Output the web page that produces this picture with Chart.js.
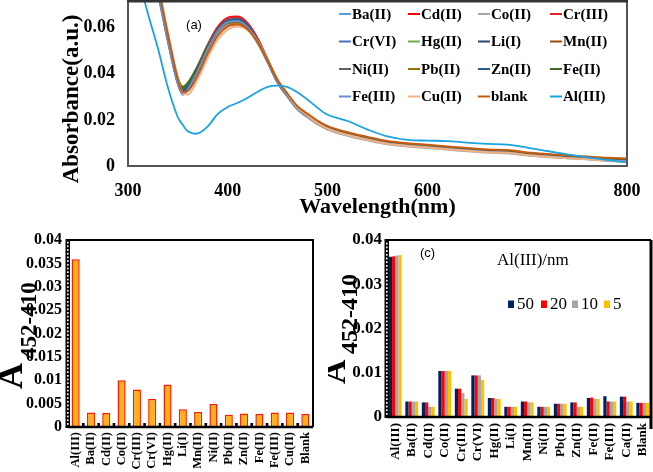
<!DOCTYPE html>
<html><head><meta charset="utf-8">
<script src="https://cdn.jsdelivr.net/npm/chart.js@4.4.1/dist/chart.umd.min.js"></script>
<style>
html,body{margin:0;padding:0;background:#fff;width:653px;height:472px;overflow:hidden}
.box{position:absolute}
</style></head><body>
<div class="box" style="left:0;top:0;width:653px;height:230px"><canvas id="ca"></canvas></div>
<div class="box" style="left:0;top:230px;width:328px;height:242px"><canvas id="cb"></canvas></div>
<div class="box" style="left:328px;top:230px;width:325px;height:242px"><canvas id="cc"></canvas></div>
<script>
// ---------- (a) UV-vis spectra ----------
const wavelengths = [300,320,330,340,350,355,360,370,380,390,400,410,420,430,440,450,460,470,480,490,500,520,540,560,580,600,620,640,660,680,700,720,740,760,780,800];
const spectraNames = ['Ba(II)','Cd(II)','Co(II)','Cr(III)','Cr(VI)','Hg(II)','Li(I)','Mn(II)','Ni(II)','Pb(II)','Zn(II)','Fe(II)','Fe(III)','Cu(II)','blank','Al(III)'];
const specBa   = [0.138,0.094,0.075,0.054,0.0355,0.031,0.033,0.041,0.0505,0.0582,0.0620,0.0625,0.0598,0.0538,0.0452,0.0362,0.0302,0.0247,0.0215,0.0185,0.0162,0.0135,0.0115,0.0097,0.0088,0.0081,0.0074,0.0067,0.0061,0.0058,0.0048,0.0041,0.0035,0.0030,0.0024,0.0019];
const specCd   = [0.142,0.097,0.077,0.056,0.037,0.0328,0.035,0.0435,0.0527,0.0603,0.0643,0.0648,0.0618,0.0552,0.0460,0.0365,0.0303,0.0248,0.0215,0.0185,0.0162,0.0135,0.0115,0.0098,0.0089,0.0082,0.0075,0.0068,0.0062,0.0059,0.0049,0.0042,0.0036,0.0031,0.0025,0.0020];
const specCo   = [0.137,0.093,0.075,0.054,0.036,0.032,0.034,0.0418,0.0505,0.0578,0.0612,0.0617,0.0590,0.0530,0.0447,0.0358,0.0298,0.0243,0.0210,0.0180,0.0158,0.0131,0.0111,0.0094,0.0085,0.0078,0.0071,0.0064,0.0058,0.0055,0.0046,0.0039,0.0034,0.0029,0.0023,0.0018];
const specCr3  = [0.141,0.096,0.077,0.0555,0.0372,0.0332,0.0352,0.0433,0.0524,0.0600,0.0640,0.0645,0.0615,0.0550,0.0460,0.0367,0.0306,0.0251,0.0218,0.0188,0.0165,0.0138,0.0117,0.0100,0.0090,0.0083,0.0076,0.0069,0.0063,0.0060,0.0050,0.0043,0.0037,0.0032,0.0026,0.0021];
const specCr6  = [0.139,0.095,0.076,0.055,0.036,0.0318,0.034,0.042,0.0512,0.0588,0.0628,0.0635,0.0606,0.0543,0.0455,0.0364,0.0304,0.0249,0.0217,0.0187,0.0164,0.0137,0.0117,0.0099,0.0090,0.0083,0.0076,0.0069,0.0063,0.0060,0.0050,0.0043,0.0037,0.0032,0.0026,0.0021];
const specHg   = [0.140,0.096,0.077,0.056,0.038,0.0345,0.0362,0.0435,0.0522,0.0592,0.0627,0.0630,0.0602,0.0540,0.0454,0.0364,0.0305,0.0250,0.0218,0.0188,0.0166,0.0139,0.0119,0.0101,0.0092,0.0085,0.0078,0.0071,0.0065,0.0062,0.0052,0.0045,0.0039,0.0034,0.0028,0.0023];
const specLi   = [0.140,0.095,0.076,0.055,0.037,0.033,0.035,0.0428,0.0516,0.0590,0.0627,0.0632,0.0604,0.0542,0.0455,0.0364,0.0304,0.0249,0.0217,0.0187,0.0164,0.0137,0.0117,0.0099,0.0090,0.0083,0.0076,0.0069,0.0063,0.0060,0.0050,0.0043,0.0037,0.0032,0.0026,0.0021];
const specMn   = [0.141,0.096,0.077,0.056,0.037,0.033,0.035,0.0425,0.0512,0.0585,0.0620,0.0626,0.0600,0.0540,0.0456,0.0368,0.0309,0.0255,0.0223,0.0193,0.0170,0.0143,0.0123,0.0105,0.0096,0.0089,0.0082,0.0075,0.0069,0.0066,0.0056,0.0049,0.0043,0.0038,0.0032,0.0027];
const specNi   = [0.140,0.096,0.077,0.056,0.0372,0.0335,0.0355,0.0430,0.0518,0.0591,0.0628,0.0633,0.0605,0.0543,0.0456,0.0366,0.0306,0.0251,0.0219,0.0189,0.0167,0.0140,0.0120,0.0102,0.0093,0.0086,0.0079,0.0072,0.0066,0.0063,0.0053,0.0046,0.0040,0.0035,0.0029,0.0024];
const specPb   = [0.139,0.095,0.076,0.056,0.0378,0.034,0.0358,0.0430,0.0514,0.0584,0.0618,0.0622,0.0596,0.0536,0.0452,0.0363,0.0304,0.0249,0.0217,0.0187,0.0165,0.0138,0.0118,0.0100,0.0091,0.0084,0.0077,0.0070,0.0064,0.0061,0.0051,0.0044,0.0038,0.0033,0.0027,0.0022];
const specZn   = [0.140,0.095,0.076,0.055,0.0365,0.0325,0.0347,0.0427,0.0518,0.0593,0.0632,0.0637,0.0608,0.0545,0.0457,0.0365,0.0305,0.0250,0.0218,0.0188,0.0165,0.0138,0.0118,0.0100,0.0091,0.0084,0.0077,0.0070,0.0064,0.0061,0.0051,0.0044,0.0038,0.0033,0.0027,0.0022];
const specFe2  = [0.140,0.096,0.077,0.056,0.0378,0.034,0.0358,0.0432,0.0518,0.0588,0.0624,0.0628,0.0601,0.0540,0.0455,0.0366,0.0307,0.0252,0.0220,0.0190,0.0168,0.0141,0.0121,0.0103,0.0094,0.0087,0.0080,0.0073,0.0067,0.0064,0.0054,0.0047,0.0041,0.0036,0.0030,0.0025];
const specFe3  = [0.138,0.094,0.075,0.054,0.0355,0.031,0.0332,0.0413,0.0507,0.0585,0.0623,0.0628,0.0600,0.0540,0.0454,0.0363,0.0303,0.0248,0.0216,0.0186,0.0163,0.0136,0.0116,0.0098,0.0089,0.0082,0.0075,0.0068,0.0062,0.0059,0.0049,0.0042,0.0036,0.0031,0.0025,0.0020];
const specCu   = [0.142,0.098,0.079,0.058,0.038,0.0315,0.031,0.0378,0.0470,0.0548,0.0592,0.0605,0.0590,0.0540,0.0462,0.0375,0.0310,0.0252,0.0218,0.0186,0.0162,0.0134,0.0114,0.0096,0.0087,0.0080,0.0073,0.0066,0.0060,0.0057,0.0047,0.0040,0.0034,0.0029,0.0023,0.0018];
const specBlank= [0.141,0.097,0.078,0.057,0.0375,0.032,0.0325,0.0395,0.0488,0.0565,0.0605,0.0613,0.0592,0.0537,0.0458,0.0372,0.0312,0.0258,0.0226,0.0196,0.0173,0.0146,0.0126,0.0108,0.0099,0.0092,0.0085,0.0078,0.0072,0.0069,0.0059,0.0052,0.0046,0.0041,0.0036,0.0033];
const specAl   = [0.098,0.066,0.051,0.034,0.0210,0.0178,0.0150,0.0141,0.0172,0.0226,0.0256,0.0274,0.0296,0.0322,0.0343,0.0348,0.0342,0.0318,0.0287,0.0252,0.0222,0.0195,0.0158,0.0128,0.0113,0.0110,0.0108,0.0101,0.0096,0.0093,0.0080,0.0065,0.0050,0.0037,0.0026,0.0016];
const spectraValues = [specBa,specCd,specCo,specCr3,specCr6,specHg,specLi,specMn,specNi,specPb,specZn,specFe2,specFe3,specCu,specBlank,specAl];
const spectraColors = ['#5b9bd5','#ff0000','#a5a5a5','#e8202a','#4472c4','#70ad47','#264478','#9e480e','#636363','#997300','#255e91','#43682b','#698ed0','#f4b183','#c55a11','#1aa3e0'];
const xTicksA = [300,400,500,600,700,800];
const yTicksA = [0,0.02,0.04,0.06];

// ---------- (b) selectivity ----------
const ionsB = ['Al(III)','Ba(II)','Cd(II)','Co(II)','Cr(III)','Cr(VI)','Hg(II)','Li(I)','Mn(II)','Ni(II)','Pb(II)','Zn(II)','Fe(II)','Fe(III)','Cu(II)','Blank'];
const responseB = [0.0359,0.0031,0.0030,0.0100,0.0080,0.0060,0.0091,0.0038,0.0032,0.0049,0.0026,0.0029,0.0028,0.0031,0.0031,0.0028];

// ---------- (c) competition at several Al(III) levels ----------
const ionsC = ['Al(III)','Ba(II)','Cd(II)','Co(II)','Cr(III)','Cr(VI)','Hg(II)','Li(I)','Mn(II)','Ni(II)','Pb(II)','Zn(II)','Fe(II)','Fe(III)','Ca(II)','Blank'];
const alLevels = ['50','20','10','5'];
const resp50 = [0.0362,0.0035,0.0033,0.0104,0.0064,0.0094,0.0043,0.0023,0.0035,0.0023,0.0030,0.0033,0.0043,0.0047,0.0046,0.0032];
const resp20 = [0.0363,0.0035,0.0033,0.0104,0.0064,0.0094,0.0043,0.0023,0.0035,0.0023,0.0030,0.0033,0.0044,0.0035,0.0046,0.0032];
const resp10 = [0.0365,0.0035,0.0023,0.0104,0.0054,0.0094,0.0041,0.0023,0.0033,0.0023,0.0030,0.0023,0.0041,0.0035,0.0035,0.0032];
const resp5  = [0.0366,0.0035,0.0023,0.0104,0.0041,0.0084,0.0041,0.0023,0.0033,0.0023,0.0030,0.0023,0.0041,0.0035,0.0035,0.0032];
const levelColors = ['#002060','#ff0000','#a6a6a6','#ffc000'];

const SERIF = "'Liberation Serif','Times New Roman',serif";
const SANS = "'Liberation Sans',Arial,sans-serif";
Chart.defaults.font.family = SERIF;
Chart.defaults.color = '#000';

function fmt(v){ return v === 0 ? '0' : String(+v.toFixed(3)); }

// ---- plugins ----
const frameA = {
  id:'frameA',
  afterDraw(chart){
    const {ctx, chartArea:a} = chart;
    ctx.save();
    ctx.strokeStyle = '#555'; ctx.lineWidth = 2;
    ctx.strokeRect(a.left, a.top, a.right - a.left, a.bottom - a.top);
    ctx.strokeStyle = '#333'; ctx.lineWidth = 3;
    ctx.beginPath(); ctx.moveTo(a.left-1, a.top); ctx.lineTo(a.right+1, a.top); ctx.stroke();
    // y-axis title
    ctx.save();
    ctx.translate(72, 99); ctx.rotate(-Math.PI/2);
    ctx.font = 'bold 23px ' + SERIF; ctx.fillStyle = '#000'; ctx.textAlign = 'center'; ctx.textBaseline = 'middle';
    ctx.fillText('Absorbance(a.u.)', 0, 0);
    ctx.restore();
    // legend 4 x 4
    const colX = [339, 408, 478, 550], rowY = [14, 41.5, 69, 96.5];
    ctx.font = 'bold 15px ' + SERIF; ctx.textBaseline = 'middle'; ctx.textAlign = 'left';
    chart.data.datasets.forEach((ds, i) => {
      const x = colX[i % 4], y = rowY[Math.floor(i / 4)];
      ctx.strokeStyle = ds.borderColor; ctx.lineWidth = 2;
      ctx.beginPath(); ctx.moveTo(x, y); ctx.lineTo(x + 12, y); ctx.stroke();
      ctx.fillStyle = '#000'; ctx.fillText(ds.label, x + 13, y + 1);
    });
    ctx.font = '13px ' + SANS; ctx.textAlign = 'center';
    ctx.fillText('(a)', 194, 25);
    ctx.restore();
  }
};

function drawATitle(ctx, aBase, aBottom, subBase, subBottom, aSize, subSize){
  ctx.save();
  ctx.fillStyle = '#000'; ctx.textBaseline = 'alphabetic'; ctx.textAlign = 'left';
  ctx.translate(aBase, aBottom); ctx.rotate(-Math.PI/2);
  ctx.font = 'bold ' + aSize + 'px ' + SERIF; ctx.fillText('A', 0, 0);
  ctx.restore();
  ctx.save();
  ctx.fillStyle = '#000'; ctx.textBaseline = 'alphabetic'; ctx.textAlign = 'left';
  ctx.translate(subBase, subBottom); ctx.rotate(-Math.PI/2);
  ctx.font = 'bold ' + subSize + 'px ' + SERIF; ctx.fillText('452-410', 0, 0);
  ctx.restore();
}
function dashAxis(ctx, x, top, bottom){
  ctx.fillStyle = '#000'; ctx.fillRect(x - 2.5, top - 1, 4.5, bottom - top + 2);
  ctx.fillStyle = '#fff';
  for (let y = bottom - 3; y > top + 2; y -= 3.7) ctx.fillRect(x - 1, y - 1, 1.6, 1.8);
}

const frameB = {
  id:'frameB',
  afterDraw(chart){
    const {ctx, chartArea:a} = chart;
    ctx.save();
    ctx.strokeStyle = '#000'; ctx.lineWidth = 2;
    ctx.beginPath();
    ctx.moveTo(a.left, a.top); ctx.lineTo(a.right, a.top); ctx.lineTo(a.right, a.bottom);
    ctx.stroke();
    ctx.lineWidth = 2.5; ctx.beginPath(); ctx.moveTo(a.left, a.bottom); ctx.lineTo(a.right, a.bottom); ctx.stroke();
    ctx.fillStyle = '#000';
    const n = chart.data.labels.length, w = (a.right - a.left) / n;
    for (let i = 1; i < n; i++) ctx.fillRect(a.left + i * w - 1.3, a.bottom - 4, 2.6, 4);
    dashAxis(ctx, a.left, a.top, a.bottom);
    drawATitle(ctx, 22, 159, 36, 129, 36, 23);
    ctx.font = '13px ' + SANS; ctx.textAlign = 'center'; ctx.textBaseline = 'middle';
    ctx.fillText('(b)', 95.5, 28);
    ctx.restore();
  }
};

const frameC = {
  id:'frameC',
  afterDraw(chart){
    const {ctx, chartArea:a} = chart;
    ctx.save();
    ctx.strokeStyle = '#000'; ctx.lineWidth = 2;
    ctx.beginPath();
    ctx.moveTo(a.left, a.top); ctx.lineTo(a.right, a.top); ctx.stroke();
    ctx.lineWidth = 3; ctx.beginPath(); ctx.moveTo(a.right, a.top); ctx.lineTo(a.right, a.bottom + 12); ctx.stroke();
    ctx.lineWidth = 2.5; ctx.beginPath(); ctx.moveTo(a.left, a.bottom); ctx.lineTo(a.right, a.bottom); ctx.stroke();
    dashAxis(ctx, a.left, a.top, a.bottom);
    drawATitle(ctx, 17, 154, 29, 124, 34, 24);
    ctx.fillStyle = '#000';
    ctx.font = '13px ' + SANS; ctx.textAlign = 'center'; ctx.textBaseline = 'middle';
    ctx.fillText('(c)', 99.5, 23);
    // legend
    ctx.font = '17px ' + SERIF; ctx.textAlign = 'left';
    ctx.fillText('Al(III)/nm', 169, 31);
    const lx = [180, 213, 244, 276];
    chart.data.datasets.forEach((ds, i) => {
      ctx.fillStyle = ds.backgroundColor; ctx.fillRect(lx[i], 70.5, 6, 7.5);
      ctx.fillStyle = '#000'; ctx.fillText(ds.label, lx[i] + 9, 75);
    });
    ctx.restore();
  }
};

// ---- chart (a) ----
new Chart(document.getElementById('ca'), {
  type:'line',
  data:{
    datasets: spectraNames.map((name, i) => ({
      label:name,
      data: wavelengths.map((w, k) => ({x:w, y:spectraValues[i][k]})),
      borderColor: spectraColors[i], backgroundColor: spectraColors[i],
      borderWidth: i === 15 ? 1.8 : 2, pointRadius:0,
      cubicInterpolationMode: i === 15 ? 'default' : 'monotone', tension: i === 15 ? 0.35 : 0,
      order: 15 - i
    }))
  },
  options:{
    responsive:true, maintainAspectRatio:false, animation:false,
    layout:{padding:{left:55, right:26, top:1, bottom:0}},
    plugins:{legend:{display:false}, tooltip:{enabled:false}},
    scales:{
      x:{type:'linear', min:300, max:800,
        afterBuildTicks(s){ s.ticks = xTicksA.map(v => ({value:v})); },
        ticks:{padding:15, font:{size:18, weight:'bold'}, color:'#000'},
        grid:{display:false, drawTicks:false}, border:{display:false},
        title:{display:true, text:'Wavelength(nm)', font:{size:22, weight:'bold'}, color:'#000', padding:{top:0, bottom:9}},
        afterFit(s){ s.height = 64; s.paddingLeft = 0; s.paddingRight = 0; }
      },
      y:{min:0, max:0.0715,
        afterBuildTicks(s){ s.ticks = yTicksA.map(v => ({value:v})); },
        ticks:{padding:13, font:{size:18, weight:'bold'}, color:'#000', callback:v => fmt(v)},
        grid:{display:false, drawTicks:false}, border:{display:false},
        afterFit(s){ s.width = 73; s.paddingTop = 0; s.paddingBottom = 0; }
      }
    }
  },
  plugins:[frameA]
});

// ---- chart (b) ----
new Chart(document.getElementById('cb'), {
  type:'bar',
  data:{labels: ionsB, datasets:[{label:'A452-410', data: responseB, backgroundColor:'#fbb117', borderColor:'#ff1a00', borderWidth:1.5, barPercentage:0.53, categoryPercentage:1}]},
  options:{
    responsive:true, maintainAspectRatio:false, animation:false,
    layout:{padding:{left:0, right:15, top:10, bottom:0}},
    plugins:{legend:{display:false}, tooltip:{enabled:false}},
    scales:{
      x:{ticks:{autoSkip:false, maxRotation:90, minRotation:90, padding:5, font:{size:12.5, weight:'bold'}, color:'#000'},
        grid:{display:false, drawTicks:false}, border:{display:false},
        afterFit(s){ s.height = 45; s.paddingLeft = 0; s.paddingRight = 0; }},
      y:{min:0, max:0.04, ticks:{stepSize:0.005, padding:6, font:{size:16, weight:'bold'}, color:'#000', callback:v => fmt(v)},
        grid:{display:false, drawTicks:false}, border:{display:false},
        afterFit(s){ s.width = 68; s.paddingTop = 0; s.paddingBottom = 0; }}
    }
  },
  plugins:[frameB]
});

// ---- chart (c) ----
const levelData = [resp50, resp20, resp10, resp5];
new Chart(document.getElementById('cc'), {
  type:'bar',
  data:{labels: ionsC, datasets: alLevels.map((lv, i) => ({label:lv, data: levelData[i], backgroundColor: levelColors[i], borderWidth:0, barPercentage:1, categoryPercentage:0.78}))},
  options:{
    responsive:true, maintainAspectRatio:false, animation:false,
    layout:{padding:{left:0, right:2, top:10, bottom:0}},
    plugins:{legend:{display:false}, tooltip:{enabled:false}},
    scales:{
      x:{ticks:{autoSkip:false, maxRotation:90, minRotation:90, padding:6, font:{size:13, weight:'bold'}, color:'#000'},
        grid:{display:false, drawTicks:false}, border:{display:false},
        afterFit(s){ s.height = 55; s.paddingLeft = 0; s.paddingRight = 0; }},
      y:{min:0, max:0.04, ticks:{stepSize:0.01, padding:5, font:{size:17, weight:'bold'}, color:'#000', callback:v => fmt(v)},
        grid:{display:false, drawTicks:false}, border:{display:false},
        afterFit(s){ s.width = 59; s.paddingTop = 0; s.paddingBottom = 0; }}
    }
  },
  plugins:[frameC]
});
</script>
</body></html>
